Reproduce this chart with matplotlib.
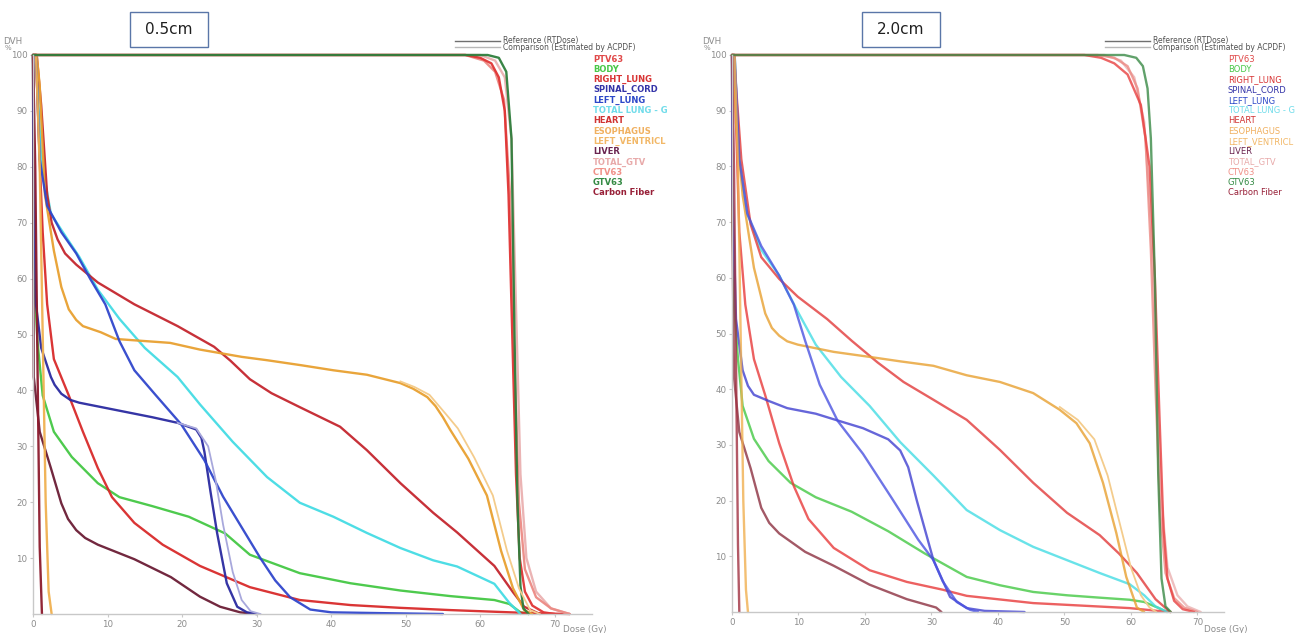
import matplotlib
matplotlib.use("Agg")
import matplotlib.pyplot as plt
from matplotlib.patches import Rectangle
from matplotlib.lines import Line2D

W, H = 1312, 633

structures = ["PTV63", "BODY", "RIGHT_LUNG", "SPINAL_CORD", "LEFT_LUNG", "TOTAL LUNG - G",
              "HEART", "ESOPHAGUS", "LEFT_VENTRICL", "LIVER", "TOTAL_GTV", "CTV63", "GTV63",
              "Carbon Fiber"]
label_colors = ["#e04848", "#48c848", "#d83434", "#3434a8", "#2c48c8", "#70dcea",
                "#d03434", "#f0b060", "#f2b868", "#6a2450", "#e8aaaa", "#f09088", "#348a44",
                "#982038"]
panel_titles = ["0.5cm", "2.0cm"]
xticks = [0, 10, 20, 30, 40, 50, 60, 70]
yticks = [10, 20, 30, 40, 50, 60, 70, 80, 90, 100]

# ---------------- left panel (0.5cm) ----------------
L_esoph_d = [0, 0.5, 0.9, 1.6, 2.8, 3.8, 4.8, 5.8, 6.7, 9.1, 11.1, 18.4, 22.4, 28, 31.4, 36,
             40.3, 44.8, 49.3, 51, 52.9, 54, 55, 56, 58.4, 60.9, 62.8, 64.4, 65.9, 67]
L_esoph_v = [100, 100, 94.5, 75, 65, 58.5, 54.5, 52.6, 51.5, 50.4, 49.2, 48.5, 47.3, 46, 45.4,
             44.5, 43.6, 42.8, 41.3, 40.3, 38.8, 37.2, 35.2, 32.9, 27.8, 21.2, 11.3, 4.6, 0.7, 0]
L_esoph_cd = [49.3, 51.2, 53.2, 55.5, 57, 59.2, 61.7, 63.6, 65.2, 66.7, 68]
L_esoph_cv = [41.6, 40.6, 39.2, 35.6, 33.2, 28, 21.2, 11.3, 4.6, 0.7, 0]
L_heart_d = [0, 0.5, 1.1, 1.9, 2.5, 3.3, 4.3, 5.8, 8.7, 13.6, 19.4, 24.3, 26.5, 29.1, 32,
             35.8, 41.2, 44.8, 49.3, 53.7, 56.9, 61.9, 64.4, 65.9, 68]
L_heart_v = [100, 100, 91, 75, 70, 67, 64.5, 62.5, 59.3, 55.4, 51.5, 47.8, 45.3, 42, 39.5, 37,
             33.5, 29.3, 23.4, 18.1, 14.6, 8.6, 3.9, 1.3, 0]
L_tlung_d = [0, 0.4, 1.1, 2.4, 4.3, 6.2, 8.7, 11.6, 15, 19.4, 22.4, 26.8, 31.4, 35.8, 40.3,
             44.8, 49.3, 53.7, 56.9, 61.9, 63.9, 65.4]
L_tlung_v = [100, 100, 81.4, 71.6, 67.7, 63.9, 58, 52.8, 47.6, 42.4, 37.5, 30.8, 24.5, 19.9, 17.4,
             14.5, 11.8, 9.6, 8.5, 5.4, 2, 0]
L_llung_d = [0, 0.4, 0.9, 1.9, 3.8, 5.8, 7.7, 9.7, 11.6, 13.6, 16.5, 19.9, 23, 25.5, 28, 30.5,
             32.5, 34.5, 37.2, 40, 47, 55]
L_llung_v = [100, 100, 81.4, 73, 68.3, 64.5, 59.9, 55.4, 48.8, 43.6, 39.1, 33.9, 27.5, 21, 15.5,
             10, 6, 3, 0.8, 0.3, 0.15, 0]
L_cord_d = [0, 0.1, 0.4, 1.1, 2.4, 2.9, 3.8, 5, 6.2, 11.1, 16, 19.4, 21.9, 22.6, 23, 23.8, 24.7,
            26, 27.4, 28.7, 30]
L_cord_v = [100, 80, 55.4, 47.6, 42.4, 41, 39.4, 38.3, 37.8, 36.5, 35.2, 34.2, 33, 31.5, 29, 22,
            14.5, 5.5, 1.3, 0.3, 0]
L_cord_cd = [19.4, 21.9, 23.5, 24.5, 25.5, 26.8, 28, 29.2, 30.5]
L_cord_cv = [34.2, 33.2, 30, 24, 16, 7.5, 2.5, 0.5, 0]
L_body_d = [0, 0.1, 0.6, 1.3, 2.8, 5.2, 8.7, 11.6, 16, 20.9, 25.8, 29.1, 35.8, 42.6, 49.3, 56,
            61.9, 63.9, 65.4, 66.5]
L_body_v = [100, 62, 48.8, 39.1, 32.6, 28.1, 23.4, 20.9, 19.3, 17.4, 14.4, 10.6, 7.3, 5.5, 4.2,
            3.2, 2.5, 1.8, 0.3, 0]
L_rlung_d = [0, 0.4, 0.9, 1.3, 1.9, 2.8, 4.8, 6.7, 8.7, 10.6, 13.6, 17.4, 22.4, 29.1, 35.8,
             42.6, 49.3, 56, 62, 66, 70, 72]
L_rlung_v = [100, 100, 81, 68.3, 55.4, 45.6, 39.1, 32.6, 26.1, 20.9, 16.3, 12.4, 8.6, 4.8, 2.5,
             1.6, 1.1, 0.7, 0.4, 0.2, 0.05, 0]
L_liver_d = [0, 0.05, 0.1, 0.9, 2.4, 3.8, 4.7, 5.8, 7, 8.7, 13.6, 18.5, 22.4, 25.1, 27.8, 30]
L_liver_v = [100, 70, 42.4, 32.6, 26.1, 19.8, 17, 15, 13.6, 12.4, 9.8, 6.6, 3.1, 1.3, 0.3, 0]
L_carbon_d = [0, 0.3, 0.6, 0.9, 1.2]
L_carbon_v = [100, 80, 45, 12, 0]
L_lv_d = [0, 0.4, 0.9, 1.3, 1.7, 2.1, 2.5]
L_lv_v = [100, 100, 80, 50, 20, 4, 0]
L_ptv_d = [0, 58, 60, 61.5, 62.5, 63.3, 63.8, 64.3, 64.8, 65.3, 66, 67, 68.5, 70]
L_ptv_v = [100, 100, 99.5, 98.5, 96, 90, 75, 50, 25, 10, 4, 1.5, 0.3, 0]
L_ctv_d = [0, 58, 60.5, 62, 63.2, 64, 64.6, 65.2, 66, 67.5, 69.5, 72]
L_ctv_v = [100, 100, 99, 97, 92, 75, 45, 20, 8, 3, 1, 0]
L_tgtv_d = [0, 60, 62, 63.3, 64.2, 64.8, 65.4, 66.2, 67.5, 69.5, 72]
L_tgtv_v = [100, 100, 99, 96, 85, 55, 25, 10, 4, 1, 0]
L_gtv_d = [0, 61, 62.5, 63.5, 64.2, 64.6, 65, 65.4, 65.8, 66.5]
L_gtv_v = [100, 100, 99.5, 97, 85, 50, 20, 5, 1, 0]

# ---------------- right panel (2.0cm) ----------------
R_esoph_d = [0, 0.3, 0.6, 1.6, 3.3, 5, 6, 7.1, 8.3, 9.9, 15.3, 20.7, 25.3, 30.3, 35.3, 40.3,
             45.3, 49.3, 51.8, 53.8, 55.8, 57.8, 59.3, 60.9, 62]
R_esoph_v = [100, 100, 87.8, 74.8, 61.8, 53.6, 51, 49.6, 48.6, 48, 46.7, 45.8, 45, 44.2, 42.5,
             41.3, 39.3, 36.3, 33.9, 30.3, 23.2, 14.2, 6.3, 0.8, 0]
R_esoph_cd = [49.3, 52, 54.5, 56.5, 58.3, 60, 61.5, 62.8, 63.8]
R_esoph_cv = [36.8, 34.5, 31, 24.5, 16, 8, 3, 0.8, 0]
R_heart_d = [0, 0.3, 0.6, 1.4, 2.8, 4.4, 7.1, 9.9, 14.3, 18, 21.9, 25.8, 30.3, 35.3, 40.3, 45.3,
             50.4, 55.3, 58.2, 60.9, 63.7, 65.9]
R_heart_v = [100, 100, 94.4, 81.3, 69.6, 63.7, 59.8, 56.6, 52.6, 48.7, 44.8, 41.3, 38.1, 34.5,
             29.1, 23.2, 17.8, 13.8, 10.5, 7, 2.3, 0]
R_tlung_d = [0, 0.4, 1.1, 2.3, 4.4, 7.1, 9.9, 12.6, 16.4, 20.7, 25.3, 30.3, 35.3, 40.3, 45.3,
             50.4, 55.3, 59.8, 62, 63.7, 65.5]
R_tlung_v = [100, 100, 81.3, 71.5, 65, 60.4, 53.9, 48, 42.2, 37, 30.5, 24.5, 18.3, 14.7, 11.7,
             9.3, 7, 5, 3, 1, 0]
R_llung_d = [0, 0.4, 1.1, 2.3, 4.4, 7.1, 9.3, 11, 13.2, 15.9, 19.7, 24, 28, 30.3, 31.7, 33.8,
             35.8, 37]
R_llung_v = [100, 100, 81.3, 71.5, 65.7, 60.4, 55.2, 48.7, 40.8, 34.3, 28.4, 20.5, 13, 9.3, 5.5,
             1.8, 0.4, 0]
R_cord_d = [0, 0.1, 0.6, 1.6, 2.4, 3.3, 5.5, 8.3, 12.6, 15.3, 19.7, 23.5, 25.3, 26.5, 27.8,
            30.3, 32.8, 35.3, 38, 44]
R_cord_v = [100, 75, 52.6, 43.4, 40.6, 39, 37.9, 36.6, 35.6, 34.6, 33, 31, 29, 26, 20, 9.3, 2.7,
            0.7, 0.2, 0]
R_body_d = [0, 0.1, 0.3, 0.9, 1.6, 3.3, 5.5, 8.8, 12.6, 18, 23.5, 29, 35.3, 40.3, 45.3, 50.4,
            55, 59.8, 62, 64, 65.4]
R_body_v = [100, 70, 55.2, 45.4, 37, 31.1, 27.1, 23.2, 20.6, 18, 14.5, 10.5, 6.3, 4.8, 3.6, 3,
            2.6, 2.2, 1.8, 0.8, 0]
R_rlung_d = [0, 0.3, 0.6, 1.1, 2, 3.3, 5, 7.1, 9.3, 11.5, 15.3, 20.7, 26.3, 31.7, 35.3, 45.3,
             59.8, 64, 66]
R_rlung_v = [100, 100, 87.8, 68.2, 55.2, 45.4, 38.9, 30.3, 22.6, 16.7, 11.5, 7.5, 5.4, 4, 2.9,
             1.6, 0.7, 0.2, 0]
R_liver_d = [0, 0.05, 0.3, 1.1, 2.8, 4.4, 5.6, 7.1, 11, 15.3, 20.7, 26.3, 30.7, 31.5]
R_liver_v = [100, 70, 42.2, 32.3, 25.8, 18.7, 16, 14.1, 10.8, 8.3, 4.9, 2.3, 0.8, 0]
R_carbon_d = [0, 0.3, 0.6, 0.9, 1.1]
R_carbon_v = [100, 80, 45, 12, 0]
R_lv_d = [0, 0.4, 0.9, 1.3, 1.7, 2.1, 2.4]
R_lv_v = [100, 100, 80, 50, 20, 4, 0]
R_ptv_d = [0, 53, 55.5, 57.5, 59.5, 61.5, 62.8, 63.6, 64.3, 64.9, 65.5, 66.5, 67.8, 69.5]
R_ptv_v = [100, 100, 99.5, 98.5, 96.5, 91, 80, 60, 35, 15, 6, 2, 0.5, 0]
R_ctv_d = [0, 55, 57.5, 59.5, 61, 62.2, 63, 63.7, 64.4, 65.2, 66.5, 68, 70]
R_ctv_v = [100, 100, 99.5, 98, 94, 85, 65, 40, 18, 7, 2.5, 0.8, 0]
R_tgtv_d = [0, 56, 58.5, 60.5, 62, 63, 63.8, 64.6, 65.5, 67, 68.5, 70.5]
R_tgtv_v = [100, 100, 99, 96, 88, 70, 45, 20, 8, 3, 1, 0]
R_gtv_d = [0, 59, 60.8, 61.8, 62.5, 63, 63.6, 64.1, 64.6, 65.2, 66]
R_gtv_v = [100, 100, 99.5, 98, 94, 85, 60, 25, 6, 1, 0]

col = {"ptv": "#e03434", "body": "#44c844", "rlung": "#d82a2a", "cord": "#2a2aa0",
       "llung": "#3046cc", "tlung": "#44dce4", "heart": "#c4262e", "esoph": "#e8a030",
       "lv": "#f0b050", "liver": "#6a1c34", "tgtv": "#eab0b0", "ctv": "#ec8a84",
       "gtv": "#2e7e3c", "carbon": "#8c1a2c"}

fig = plt.figure(figsize=(W / 100, H / 100), dpi=100)
fig.patch.set_facecolor("white")


def px(x, y):
    return x / W, 1 - y / H


def setup(ax, xmax):
    ax.set_xlim(0, xmax)
    ax.set_ylim(0, 100)
    for s in ["top", "right"]:
        ax.spines[s].set_visible(False)
    for s in ["left", "bottom"]:
        ax.spines[s].set_color("#c8c8c8")
        ax.spines[s].set_linewidth(1.0)
    ax.set_xticks(xticks)
    ax.set_yticks(yticks)
    ax.tick_params(colors="#c8c8c8", labelcolor="#8c8c8c", labelsize=6.3, length=2, pad=2)


def draw(ax, series, alpha):
    for d, v, c in series:
        ax.plot(d, v, color=c, lw=1.7, alpha=alpha, solid_joinstyle="round",
                solid_capstyle="round", clip_on=False)


axL = fig.add_axes([33 / W, 19 / H, 559 / W, 559 / H])
setup(axL, 75)
left_series = [
    (L_body_d, L_body_v, col["body"]), (L_rlung_d, L_rlung_v, col["rlung"]),
    (L_liver_d, L_liver_v, col["liver"]), (L_tlung_d, L_tlung_v, col["tlung"]),
    (L_heart_d, L_heart_v, col["heart"]), (L_esoph_d, L_esoph_v, col["esoph"]),
    (L_cord_d, L_cord_v, col["cord"]), (L_llung_d, L_llung_v, col["llung"]),
    (L_lv_d, L_lv_v, col["lv"]), (L_carbon_d, L_carbon_v, col["carbon"]),
    (L_tgtv_d, L_tgtv_v, col["tgtv"]), (L_ctv_d, L_ctv_v, col["ctv"]),
    (L_ptv_d, L_ptv_v, col["ptv"]), (L_gtv_d, L_gtv_v, col["gtv"]),
]
draw(axL, left_series, 0.95)
axL.plot(L_esoph_cd, L_esoph_cv, color="#f4cc8c", lw=1.3, clip_on=False)
axL.plot(L_cord_cd, L_cord_cv, color="#a8a8dc", lw=1.3, clip_on=False)

axR = fig.add_axes([732 / W, 21 / H, 492 / W, 557 / H])
setup(axR, 74)
right_series = [
    (R_body_d, R_body_v, col["body"]), (R_rlung_d, R_rlung_v, "#e83a3a"),
    (R_liver_d, R_liver_v, "#8c3040"), (R_tlung_d, R_tlung_v, col["tlung"]),
    (R_heart_d, R_heart_v, "#e23a3a"), (R_esoph_d, R_esoph_v, col["esoph"]),
    (R_cord_d, R_cord_v, "#4040d0"), (R_llung_d, R_llung_v, "#4a52e0"),
    (R_lv_d, R_lv_v, col["lv"]), (R_carbon_d, R_carbon_v, "#a03040"),
    (R_tgtv_d, R_tgtv_v, col["tgtv"]), (R_ctv_d, R_ctv_v, col["ctv"]),
    (R_ptv_d, R_ptv_v, "#e84040"), (R_gtv_d, R_gtv_v, "#3a8a46"),
]
draw(axR, right_series, 0.8)
axR.plot(R_esoph_cd, R_esoph_cv, color="#f4cc8c", lw=1.3, clip_on=False)

# per-panel annotations
for i, (x0, lx, lgx, dx) in enumerate([(33, 455, 593, 563), (732, 1105, 1228, 1204)]):
    fig.text(*px(x0 - 20, 42), "DVH", fontsize=6.3, color="#8c8c8c", ha="center", va="center")
    fig.text(*px(x0 - 25, 48), "%", fontsize=5, color="#8c8c8c", ha="center", va="center")
    fig.text(*px(dx, 629), "Dose (Gy)", fontsize=6.3, color="#8c8c8c", ha="left",
             va="center")
    fig.add_artist(Line2D([lx / W, (lx + 45) / W], [1 - 41 / H, 1 - 41 / H], color="#707070",
                          lw=1.0))
    fig.add_artist(Line2D([lx / W, (lx + 45) / W], [1 - 47 / H, 1 - 47 / H], color="#b8b8b8",
                          lw=1.0))
    fig.text(*px(lx + 48, 40), "Reference (RTDose)", fontsize=5.5, color="#505050", va="center")
    fig.text(*px(lx + 48, 47), "Comparison (Estimated by ACPDF)", fontsize=5.5,
             color="#505050", va="center")
    for k, (name, c) in enumerate(zip(structures, label_colors)):
        fig.text(*px(lgx, 59 + k * 10.3), name, fontsize=6, color=c, va="center",
                 fontweight="bold" if i == 0 else "normal")

for bx, title in zip([130, 862], panel_titles):
    fig.add_artist(Rectangle(px(bx, 47), 78 / W, 35 / H, transform=fig.transFigure,
                             fill=False, ec="#5a76a8", lw=1.0))
    fig.text(*px(bx + 39, 30), title, fontsize=11, color="#202020", ha="center", va="center")

fig.savefig("out.png", dpi=100, facecolor="white")
